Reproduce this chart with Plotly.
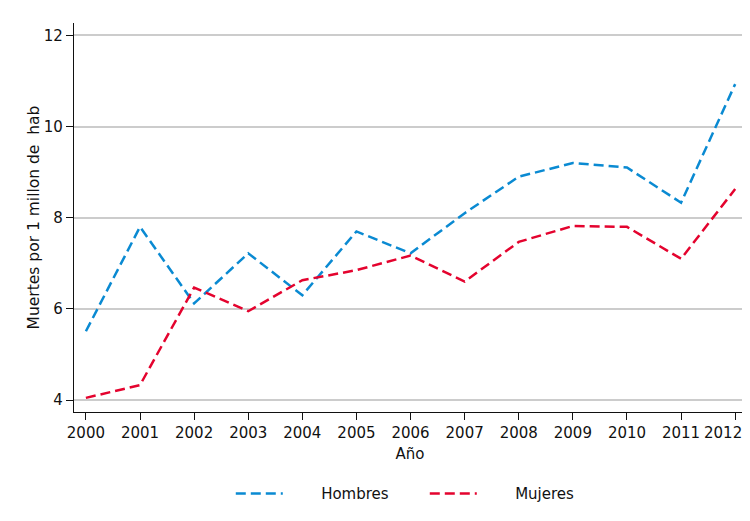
import plotly.graph_objects as go

years = list(range(2000, 2013))
year_labels = [str(y) for y in years]
hombres = [5.51, 7.8, 6.12, 7.22, 6.3, 7.7, 7.22, 8.1, 8.9, 9.2, 9.1, 8.33, 10.93]
mujeres = [4.05, 4.33, 6.47, 5.95, 6.63, 6.85, 7.17, 6.6, 7.47, 7.82, 7.8, 7.1, 8.63]
y_ticks = [4, 6, 8, 10, 12]

blue = "#0a8ad2"
red = "#e4032e"
pad = "\u00a0" * 7

fig = go.Figure()
fig.add_trace(go.Scatter(x=years, y=hombres, mode="lines", name=pad + "Hombres",
                         line=dict(color=blue, width=2.5, dash="10px,5px")))
fig.add_trace(go.Scatter(x=years, y=mujeres, mode="lines", name=pad + "Mujeres",
                         line=dict(color=red, width=2.5, dash="10px,5px")))

# last tick label drawn as annotation so it stays inside the page edge
fig.add_annotation(x=years[-1], xref="x", y=0, yref="paper", yanchor="top",
                   xanchor="right", xshift=9, yshift=-10, showarrow=False,
                   text=year_labels[-1], font=dict(size=15, color="#111"))

fig.update_layout(
    width=742, height=513,
    margin=dict(l=66, r=4, t=15, b=109),
    paper_bgcolor="white", plot_bgcolor="white",
    font=dict(family="DejaVu Sans", color="#111", size=14),
    legend=dict(orientation="h", x=0.522, xanchor="center", y=-0.21, yanchor="middle",
                font=dict(size=15), itemwidth=47, entrywidth=132,
                traceorder="normal"),
    xaxis=dict(range=[1999.78, 2012.2], tickmode="array", tickvals=years,
               ticktext=year_labels[:-1] + [""],
               ticks="outside", ticklen=7, tickcolor="#111", showline=True,
               linecolor="#111", linewidth=1.2, showgrid=False, zeroline=False,
               automargin=False, ticklabeloverflow="allow",
               title=dict(text="Año", font=dict(size=15), standoff=7),
               tickfont=dict(size=15)),
    yaxis=dict(range=[3.74, 12.27], tickmode="array", tickvals=y_ticks,
               ticks="outside", ticklen=7, tickcolor="#111", showline=True,
               linecolor="#111", linewidth=1.2, showgrid=True, gridcolor="#cccccc",
               gridwidth=1.5, zeroline=False, automargin=False,
               title=dict(text="Muertes por 1 millon de  hab", font=dict(size=15.5), standoff=0),
               tickfont=dict(size=15)),
)

fig.write_html("out.html")
